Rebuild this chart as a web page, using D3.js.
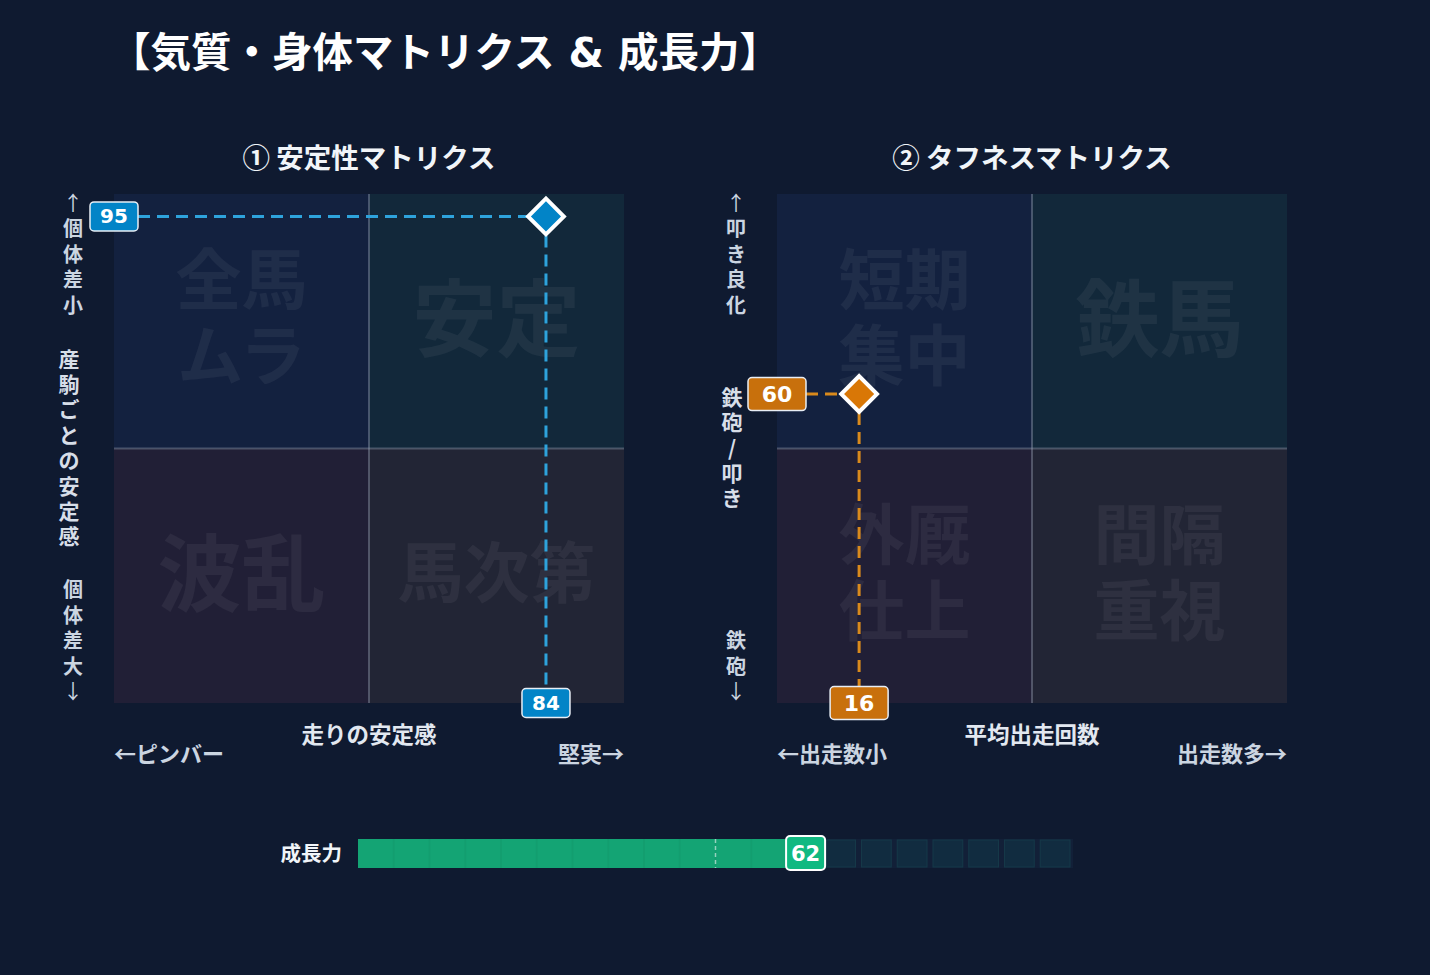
<!DOCTYPE html>
<html><head><meta charset="utf-8">
<script src="https://cdn.jsdelivr.net/npm/d3@7"></script>
<style>
body{margin:0;background:#0f1a30;}
svg{display:block;font-family:"Noto Sans CJK JP","Noto Sans",sans-serif;}
.dv{font-family:"DejaVu Sans","Noto Sans CJK JP",sans-serif;}
</style>
</head><body><svg id="c" width="1430" height="975"></svg>
<script>
// ---------- data ----------
const title = "【気質・身体マトリクス & 成長力】";
const matrixTitles = ["① 安定性マトリクス", "② タフネスマトリクス"];
// quadrant order: top-left, top-right, bottom-left, bottom-right
const quadrantLabels1 = [["全馬", "ムラ"], ["安定"], ["波乱"], ["馬次第"]];
const quadrantLabels2 = [["短期", "集中"], ["鉄馬"], ["外厩", "仕上"], ["間隔", "重視"]];
const xAxisTitles = ["走りの安定感", "平均出走回数"];
const xAxisLeftEnds = ["←ピンバー", "←出走数小"];
const xAxisRightEnds = ["堅実→", "出走数多→"];
const yTopLabels = ["↑個体差小", "↑叩き良化"];
const yMidLabels = ["産駒ごとの安定感", "鉄砲/叩き"];
const yBottomLabels = ["個体差大↓", "鉄砲↓"];
const pointX = [84.7, 16.1];
const pointY = [95.6, 60.7];
const growthLabel = "成長力";
const growthValue = 62.6;
const growthSegments = 20;
const growthMid = 50;

// ---------- layout / style ----------
const svg = d3.select("#c");
svg.append("rect").attr("width", 1430).attr("height", 975).attr("fill", "#0f1a30");

svg.append("text").attr("class", "dv").attr("x", 445).attr("y", 53)
  .attr("text-anchor", "middle").attr("dominant-baseline", "central")
  .attr("font-size", 40.5).attr("font-weight", 700).attr("fill", "#ffffff")
  .text(title);

const quadFill = ["#13213f", "#12283a", "#211f36", "#222535"];
const styles = [
  {left: 114, mark: "#0284c7", dash: "#2ea3dc", box: "#0284c7", bw: 48, bh: 29, bfs: 20,
   quads: quadrantLabels1, midX: 69, sideX: 73},
  {left: 777, mark: "#d97706", dash: "#d98a1c", box: "#c8700c", bw: 58, bh: 33, bfs: 22,
   quads: quadrantLabels2, midX: 732, sideX: 736}
];
const plotTop = 194, plotBottom = 703, plotW = 510;

styles.forEach((st, i) => {
  const x = d3.scaleLinear().domain([0, 100]).range([st.left, st.left + plotW]);
  const y = d3.scaleLinear().domain([0, 100]).range([plotBottom, plotTop]);
  const g = svg.append("g");

  // subtitle
  g.append("text").attr("x", x(50)).attr("y", 156)
    .attr("text-anchor", "middle").attr("dominant-baseline", "central")
    .attr("font-size", 27.5).attr("font-weight", 700).attr("fill", "#f1f5f9")
    .text(matrixTitles[i]);

  // quadrants
  const quads = [[0, 50, 50, 100], [50, 100, 50, 100], [0, 50, 0, 50], [50, 100, 0, 50]];
  quads.forEach((q, k) => {
    g.append("rect").attr("x", x(q[0])).attr("y", y(q[3]))
      .attr("width", x(q[1]) - x(q[0])).attr("height", y(q[2]) - y(q[3]))
      .attr("fill", quadFill[k]);
    const lines = st.quads[k];
    const fs = (lines.length === 1 && lines[0].length <= 2) ? 84 : 66;
    const cx = (x(q[0]) + x(q[1])) / 2, cy = (y(q[2]) + y(q[3])) / 2 - 8;
    const lh = 76;
    const t = g.append("text").attr("text-anchor", "middle").attr("dominant-baseline", "central")
      .attr("font-size", fs).attr("font-weight", 700)
      .attr("fill", "rgba(255,255,255,0.055)");
    lines.forEach((s, j) => {
      t.append("tspan").attr("x", cx).attr("y", cy + (j - (lines.length - 1) / 2) * lh)
        .attr("dominant-baseline", "central").text(s);
    });
  });

  // mid lines
  g.append("line").attr("x1", x(50)).attr("x2", x(50)).attr("y1", y(100)).attr("y2", y(0))
    .attr("stroke", "rgba(160,170,190,0.38)").attr("stroke-width", 2);
  g.append("line").attr("x1", x(0)).attr("x2", x(100)).attr("y1", y(50)).attr("y2", y(50))
    .attr("stroke", "rgba(160,170,190,0.38)").attr("stroke-width", 2);

  // y labels (vertical, one text per label, char per tspan)
  const step = 25.4;
  const drawVert = (str, xx, startY, fs, col) => {
    const t = g.append("text").attr("text-anchor", "middle").attr("dominant-baseline", "central")
      .attr("font-size", fs).attr("font-weight", 700).attr("fill", col);
    Array.from(str).forEach((ch, j) => {
      t.append("tspan").attr("x", xx).attr("y", startY + j * step)
        .attr("dominant-baseline", "central")
        .attr("font-weight", (ch === "↑" || ch === "↓") ? 400 : 700).text(ch);
    });
  };
  drawVert(yTopLabels[i], st.sideX, plotTop + 8, 20, "#cbd5e1");
  const midArr = Array.from(yMidLabels[i]);
  drawVert(yMidLabels[i], st.midX, y(50) - 2 - (midArr.length - 1) / 2 * step, 21, "#d7dee8");
  const botArr = Array.from(yBottomLabels[i]);
  drawVert(yBottomLabels[i], st.sideX, plotBottom - 13 - (botArr.length - 1) * step, 20, "#cbd5e1");

  // x labels
  g.append("text").attr("x", x(50)).attr("y", 732.5)
    .attr("text-anchor", "middle").attr("dominant-baseline", "central")
    .attr("font-size", 22.5).attr("font-weight", 700).attr("fill", "#e2e8f0").text(xAxisTitles[i]);
  g.append("text").attr("x", x(0)).attr("y", 751.5)
    .attr("text-anchor", "start").attr("dominant-baseline", "central")
    .attr("font-size", 22).attr("font-weight", 700).attr("fill", "#cbd5e1").text(xAxisLeftEnds[i]);
  g.append("text").attr("x", x(100)).attr("y", 751.5)
    .attr("text-anchor", "end").attr("dominant-baseline", "central")
    .attr("font-size", 22).attr("font-weight", 700).attr("fill", "#cbd5e1").text(xAxisRightEnds[i]);

  // guide lines
  const px = x(pointX[i]), py = y(pointY[i]);
  g.append("line").attr("x1", x(0) + st.bw / 2).attr("x2", px).attr("y1", py).attr("y2", py)
    .attr("stroke", st.dash).attr("stroke-width", 3).attr("stroke-dasharray", "12,7");
  g.append("line").attr("x1", px).attr("x2", px).attr("y1", py).attr("y2", y(0) - st.bh / 2)
    .attr("stroke", st.dash).attr("stroke-width", 3).attr("stroke-dasharray", "12,7");

  // value boxes
  const box = (cx, cy, val) => {
    g.append("rect").attr("x", cx - st.bw / 2).attr("y", cy - st.bh / 2)
      .attr("width", st.bw).attr("height", st.bh).attr("rx", 4)
      .attr("fill", st.box).attr("stroke", "#e8eef5").attr("stroke-width", 1.5);
    g.append("text").attr("class", "dv").attr("x", cx).attr("y", cy)
      .attr("text-anchor", "middle").attr("dominant-baseline", "central")
      .attr("font-size", st.bfs).attr("font-weight", 700).attr("fill", "#ffffff")
      .text(Math.floor(val));
  };
  box(x(0), py, pointY[i]);
  box(px, y(0), pointX[i]);

  // marker
  g.append("path").attr("d", d3.symbol().type(d3.symbolSquare).size(640)())
    .attr("transform", `translate(${px},${py}) rotate(45)`)
    .attr("fill", st.mark).attr("stroke", "#ffffff").attr("stroke-width", 4);
});

// ---------- growth bar ----------
const gx = d3.scaleLinear().domain([0, 100]).range([358, 1073]);
const gy = 839, gh = 29;
const gg = svg.append("g");
gg.append("text").attr("x", 342).attr("y", gy + gh / 2 - 1.5)
  .attr("text-anchor", "end").attr("dominant-baseline", "central")
  .attr("font-size", 20.5).attr("font-weight", 700).attr("fill", "#f1f5f9").text(growthLabel);
gg.append("rect").attr("x", gx(0)).attr("y", gy).attr("width", gx(100) - gx(0)).attr("height", gh)
  .attr("fill", "#122038");
const segW = 100 / growthSegments;
d3.range(growthSegments).forEach(k => {
  const s = gx(k * segW), e = gx((k + 1) * segW);
  gg.append("rect").attr("x", s + 3).attr("y", gy + 1).attr("width", e - s - 6).attr("height", gh - 2)
    .attr("fill", "#112c40").attr("stroke", "#153848").attr("stroke-width", 1);
});
gg.append("rect").attr("x", gx(0)).attr("y", gy).attr("width", gx(growthValue) - gx(0)).attr("height", gh)
  .attr("fill", "#14a474");
d3.range(1, growthSegments).forEach(k => {
  if (k * segW < growthValue) {
    gg.append("line").attr("x1", gx(k * segW)).attr("x2", gx(k * segW)).attr("y1", gy).attr("y2", gy + gh)
      .attr("stroke", "rgba(0,0,0,0.035)").attr("stroke-width", 2);
  }
});
gg.append("line").attr("x1", gx(growthMid)).attr("x2", gx(growthMid)).attr("y1", gy).attr("y2", gy + gh)
  .attr("stroke", "rgba(255,255,255,0.55)").attr("stroke-width", 1.5).attr("stroke-dasharray", "4,3");
gg.append("rect").attr("x", gx(growthValue) - 19.5).attr("y", gy - 3).attr("width", 39).attr("height", gh + 5)
  .attr("rx", 4).attr("fill", "#10b981").attr("stroke", "#ffffff").attr("stroke-width", 2);
gg.append("text").attr("class", "dv").attr("x", gx(growthValue)).attr("y", gy + gh / 2)
  .attr("text-anchor", "middle").attr("dominant-baseline", "central")
  .attr("font-size", 21).attr("font-weight", 700).attr("fill", "#ffffff").text(Math.floor(growthValue));
</script>
</body></html>
